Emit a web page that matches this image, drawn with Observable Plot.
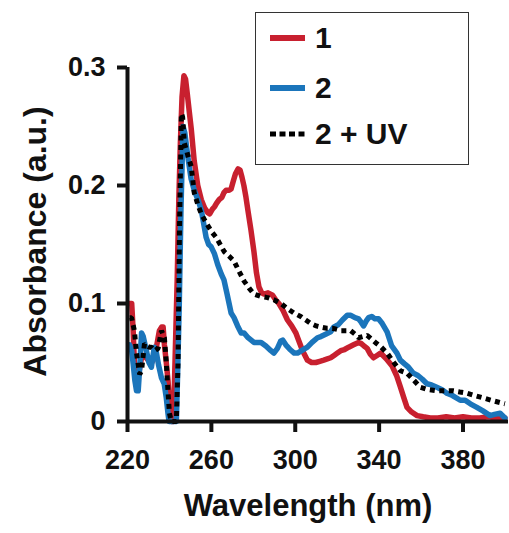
<!DOCTYPE html>
<html>
<head>
<meta charset="utf-8">
<script src="https://cdn.jsdelivr.net/npm/d3@7"></script>
<script src="https://cdn.jsdelivr.net/npm/@observablehq/plot@0.6"></script>
<style>
  html, body { margin: 0; padding: 0; background: #fff; }
  #wrap { position: relative; width: 509px; height: 533px; font-family: "Liberation Sans", Arial, sans-serif; }
  #legend { position: absolute; left: 255px; top: 12px; width: 212px; height: 151px; border: 1.5px solid #333; background: #fff; }
  .row { position: absolute; left: 14px; height: 30px; display: flex; align-items: center; }
  .row span { font-weight: bold; font-size: 30px; color: #111; margin-left: 10px; line-height: 30px; }
</style>
</head>
<body>
<div id="wrap"><div id="chart"></div><div id="legend"></div></div>
<script>
// Series names and colours
const seriesNames = ["1", "2", "2 + UV"];
const seriesColors = ["#c8202f", "#1b75bb", "#000000"];

// Series 1 (red)
const wl1 = [221,222,222.7,223.3,224.3,225.5,226.7,228,229.8,231.5,232.8,234,235.2,236.3,237,237.6,238.5,239.3,240.3,240.9,241.9,242.8,243.7,244.5,245.2,246,246.9,247.7,248.5,249.5,250.4,251.8,253.5,255.2,256.8,258.3,259.2,260.5,261.5,262.5,263.7,265,266,267,268.5,269.4,270.5,271.5,272.7,273.7,274.6,275.5,276.5,277.5,278.9,280.3,281.5,282.7,284,285.1,287,289.2,290.7,292.2,294.2,296.3,298.3,300.3,302,303.5,305.8,307.8,309.8,311.7,313.6,315.3,316.9,318.5,320.1,321.7,323.5,325.5,327.8,330.2,331.5,332.8,334.3,335.8,337.3,339,340.7,343.5,346.2,348.3,350.2,351.8,353.3,355.5,358.1,361,364.4,368,372,376,380,384,388,392,396,400];
const abs1 = [0.100,0.100,0.077,0.049,0.037,0.042,0.054,0.056,0.052,0.050,0.054,0.065,0.077,0.080,0.080,0.065,0.050,0.035,0.010,0,0,0.06,0.12,0.19,0.235,0.275,0.293,0.29,0.278,0.262,0.248,0.221,0.200,0.188,0.181,0.177,0.176,0.180,0.182,0.185,0.188,0.190,0.194,0.196,0.196,0.197,0.204,0.210,0.214,0.213,0.207,0.200,0.190,0.178,0.162,0.144,0.126,0.114,0.109,0.108,0.109,0.107,0.103,0.100,0.094,0.086,0.081,0.075,0.067,0.060,0.052,0.050,0.050,0.051,0.052,0.053,0.054,0.056,0.058,0.060,0.061,0.063,0.065,0.067,0.066,0.064,0.062,0.057,0.054,0.056,0.058,0.053,0.047,0.039,0.029,0.020,0.012,0.008,0.005,0.004,0.003,0.003,0.004,0.003,0.004,0.003,0.003,0.004,0.003,0.003];

// Series 2 (blue)
const wl2 = [221,222,222.7,223.5,224.3,225.1,225.8,226.7,227.5,229,230.2,231.4,232.1,232.8,233.6,234.8,236.2,237.5,238.5,239.3,239.8,243.3,243.9,244.7,245.5,246.5,247.3,248.8,250.3,252,253.6,255.2,256.3,257.5,258.7,259.9,261.5,263,264.7,266,267.5,269.4,270.8,272.5,274.2,275.6,277.5,280.3,283.7,286,288.4,289.8,291.5,293,294,295.5,297.5,299.5,301.1,303,305.8,308,310.6,312.2,314.5,316.9,318.3,320.5,322.5,324.8,326.5,328.5,330.2,331.5,332.6,333.8,335,336.5,338,339.7,341.5,343.8,346,348.5,350.1,352,354,356.3,358.5,360.5,362.8,365,367.5,370,372.3,375,378.7,381,383.5,386.6,389.5,392.9,395,397.7,400];
const abs2 = [0.065,0.060,0.049,0.035,0.026,0.026,0.045,0.075,0.072,0.060,0.050,0.046,0.055,0.063,0.060,0.048,0.037,0.032,0.020,0.007,0,0,0.04,0.10,0.18,0.250,0.245,0.224,0.206,0.195,0.188,0.179,0.168,0.156,0.150,0.148,0.142,0.133,0.125,0.120,0.108,0.092,0.088,0.081,0.075,0.075,0.071,0.067,0.067,0.064,0.060,0.058,0.062,0.068,0.069,0.065,0.061,0.058,0.058,0.060,0.063,0.067,0.071,0.072,0.074,0.076,0.080,0.082,0.086,0.090,0.090,0.088,0.087,0.084,0.081,0.085,0.088,0.089,0.087,0.087,0.083,0.076,0.064,0.058,0.052,0.049,0.046,0.041,0.039,0.036,0.032,0.031,0.029,0.027,0.024,0.022,0.018,0.018,0.015,0.012,0.009,0.005,0.006,0.007,0.003];

// Series 2 + UV (black dotted)
const wl3 = [221,221.9,223.3,224.3,225.8,226.7,228.1,229.3,230.5,231.4,233,234.6,236.2,237.6,238.5,239.3,240,240.9,243.3,244.1,244.8,245.7,246.3,247.1,248.7,250.4,251.8,253.5,255.2,257,259,260.5,262.3,264.2,266.1,268.5,270.8,273,275.6,278,280.3,283.5,286.8,290,293.2,296,299.3,302.6,305,307.4,310,312.2,315,317.7,320,321.7,324,326.4,328.5,330.2,332.3,334.3,336.3,338.2,341,343.8,347,350.1,353.3,356.5,359.7,363.5,367.6,371.5,375.3,378.5,381.8,385.5,389.6,393.5,397.7,400];
const abs3 = [0.088,0.088,0.077,0.058,0.040,0.043,0.066,0.064,0.063,0.063,0.060,0.062,0.077,0.071,0.050,0.026,0.007,0,0,0.051,0.164,0.261,0.258,0.236,0.226,0.216,0.194,0.184,0.176,0.170,0.164,0.160,0.156,0.150,0.144,0.140,0.136,0.128,0.119,0.113,0.108,0.106,0.105,0.103,0.100,0.096,0.092,0.089,0.086,0.083,0.081,0.080,0.079,0.079,0.078,0.077,0.077,0.077,0.074,0.071,0.072,0.073,0.070,0.067,0.063,0.058,0.050,0.043,0.041,0.035,0.029,0.027,0.026,0.026,0.026,0.025,0.024,0.022,0.020,0.018,0.016,0.015];

// Axis ticks
const xTicks = [220, 260, 300, 340, 380];
const yTicks = [0, 0.1, 0.2, 0.3];
const yTickLabels = ["0", "0.1", "0.2", "0.3"];
const xTitle = "Wavelength (nm)";
const yTitle = "Absorbance (a.u.)";

const toRows = (wl, ab) => wl.map((w, i) => ({wl: w, a: ab[i]}));
const d1 = toRows(wl1, abs1), d2 = toRows(wl2, abs2), d3s = toRows(wl3, abs3);
const yLab = new Map(yTicks.map((t, i) => [t, yTickLabels[i]]));

const plot = Plot.plot({
  width: 509, height: 533,
  marginLeft: 127, marginRight: 1, marginTop: 67, marginBottom: 112,
  x: {domain: [220, 401.7]},
  y: {domain: [0, 0.3]},
  style: {fontFamily: "'Liberation Sans', Arial, sans-serif", fontWeight: "bold", color: "#111", background: "white"},
  marks: [
    Plot.line(d1, {x: "wl", y: "a", stroke: seriesColors[0], strokeWidth: 5.5, strokeLinejoin: "round", strokeLinecap: "round"}),
    Plot.line(d2, {x: "wl", y: "a", stroke: seriesColors[1], strokeWidth: 5.5, strokeLinejoin: "round", strokeLinecap: "round"}),
    Plot.line(d3s, {x: "wl", y: "a", stroke: seriesColors[2], strokeWidth: 5, strokeDasharray: "5,4.5", strokeLinecap: "butt", strokeLinejoin: "miter"}),
    Plot.axisX(xTicks, {tickSize: 11, tickPadding: 17, fontSize: 27, strokeWidth: 4, label: null}),
    Plot.axisY(yTicks, {tickSize: 10, tickPadding: 12, fontSize: 27, strokeWidth: 4, tickFormat: d => yLab.get(d), label: null}),
    Plot.ruleY([0], {strokeWidth: 4, stroke: "#111"}),
    Plot.ruleX([220], {strokeWidth: 4, stroke: "#111"}),
    Plot.text([xTitle], {frameAnchor: "bottom", dy: 94, dx: -10, fontSize: 31, fontWeight: "bold", fill: "#111"}),
    Plot.text([yTitle], {frameAnchor: "left", textAnchor: "middle", dx: -92, dy: -3, rotate: -90, fontSize: 32, fontWeight: "bold", fill: "#111"})
  ]
});
document.getElementById("chart").appendChild(plot);

// Legend (HTML overlay)
const legend = document.getElementById("legend");
const rowCenters = [25, 75, 121];
seriesNames.forEach((name, i) => {
  const row = document.createElement("div");
  row.className = "row";
  row.style.top = (rowCenters[i] - 15) + "px";
  const dash = i === 2 ? 'stroke-dasharray="6,3.5"' : '';
  row.innerHTML = `<svg width="35" height="10"><line x1="0" x2="35" y1="5" y2="5" stroke="${seriesColors[i]}" stroke-width="${i === 2 ? 5 : 6}" ${dash}/></svg><span>${name}</span>`;
  legend.appendChild(row);
});
</script>
</body>
</html>
